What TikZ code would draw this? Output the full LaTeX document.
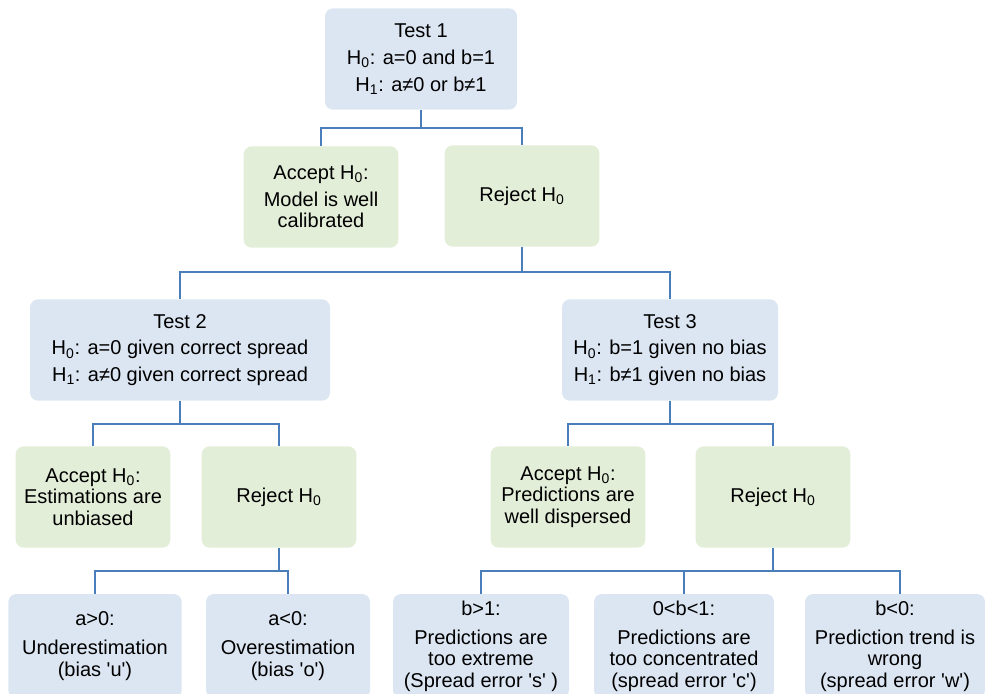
\documentclass[tikz,border=0pt]{standalone}
\usepackage{fontspec}
\setmainfont{Liberation Sans}[Ligatures=TeXOff]
\definecolor{boxblue}{HTML}{DCE6F2}
\definecolor{boxgreen}{HTML}{E3EED9}
\definecolor{linkblue}{HTML}{4A7EBB}
\newcommand{\Hz}{H\textsubscript{0}}
\newcommand{\Ho}{H\textsubscript{1}}

\begin{document}
\begin{tikzpicture}[x=0.75pt,y=-0.75pt,
  font=\fontsize{15}{16}\selectfont,
  testbox/.style={fill=boxblue,rounded corners=6pt,align=center,inner sep=0pt,
    minimum width=144pt,minimum height=76pt},
  decbox/.style={fill=boxgreen,rounded corners=6pt,align=center,inner sep=0pt,
    minimum width=116pt,minimum height=76pt},
  outbox/.style={fill=boxblue,rounded corners=6pt,align=center,inner sep=0pt,
    minimum width=132pt,minimum height=78pt},
  conn/.style={draw=linkblue,line width=1.5pt}]
  \useasboundingbox (0,0) rectangle (985,693);
  % first test
  \node[testbox] (t1) at (421,59) {Test 1\\[4pt] \Hz: a=0 and b=1\\[4pt] \Ho: a≠0 or b≠1};
  \node[decbox] (acc1) at (321,197) {Accept \Hz:\\[4pt] Model is well\\ calibrated};
  \node[decbox] (rej1) at (522,196) {Reject \Hz};
  % second and third test
  \node[testbox,minimum width=225pt] (t2) at (180,350) {Test 2\\[4pt] \Hz: a=0 given correct spread\\[4pt] \Ho: a≠0 given correct spread};
  \node[testbox,minimum width=162pt] (t3) at (670,350) {Test 3\\[4pt] \Hz: b=1 given no bias\\[4pt] \Ho: b≠1 given no bias};
  \node[decbox] (acc2) at (93,497) {Accept \Hz:\\ Estimations are\\ unbiased};
  \node[decbox] (rej2) at (279,497) {Reject \Hz};
  \node[decbox] (acc3) at (568,497) {Accept \Hz:\\ Predictions are\\ well dispersed};
  \node[decbox] (rej3) at (773,497) {Reject \Hz};
  % outcomes
  \node[outbox,minimum width=130pt] (bu) at (95,646) {a>0:\\[6pt] Underestimation\\ (bias 'u')};
  \node[outbox,minimum width=123pt] (bo) at (288,646) {a<0:\\[6pt] Overestimation\\ (bias 'o')};
  \node[outbox] (bs) at (481,646) {b>1:\\[6pt] Predictions are\\ too extreme\\ (Spread error 's' )};
  \node[outbox,minimum width=135pt] (bc) at (684,646) {0<b<1:\\[6pt] Predictions are\\ too concentrated\\ (spread error 'c')};
  \node[outbox,minimum width=135pt] (bw) at (895,646) {b<0:\\[6pt] Prediction trend is\\ wrong\\ (spread error 'w')};
  % connectors
  \draw[conn] (t1.south) -- ++(0,18) coordinate (j1) -| (acc1.north);
  \draw[conn] (j1) -| (rej1.north);
  \draw[conn] (rej1.south) -- ++(0,25) coordinate (j2) -| (t2.north);
  \draw[conn] (j2) -| (t3.north);
  \draw[conn] (t2.south) -- ++(0,23) coordinate (j3) -| (acc2.north);
  \draw[conn] (j3) -| (rej2.north);
  \draw[conn] (t3.south) -- ++(0,23) coordinate (j4) -| (acc3.north);
  \draw[conn] (j4) -| (rej3.north);
  \draw[conn] (rej2.south) -- ++(0,23) coordinate (j5) -| (bu.north);
  \draw[conn] (j5) -| (bo.north);
  \draw[conn] (rej3.south) -- ++(0,23) coordinate (j6) -| (bs.north);
  \draw[conn] (j6) -| (bc.north);
  \draw[conn] (j6) -| ([xshift=3.75pt]bw.north);
\end{tikzpicture}
\end{document}
